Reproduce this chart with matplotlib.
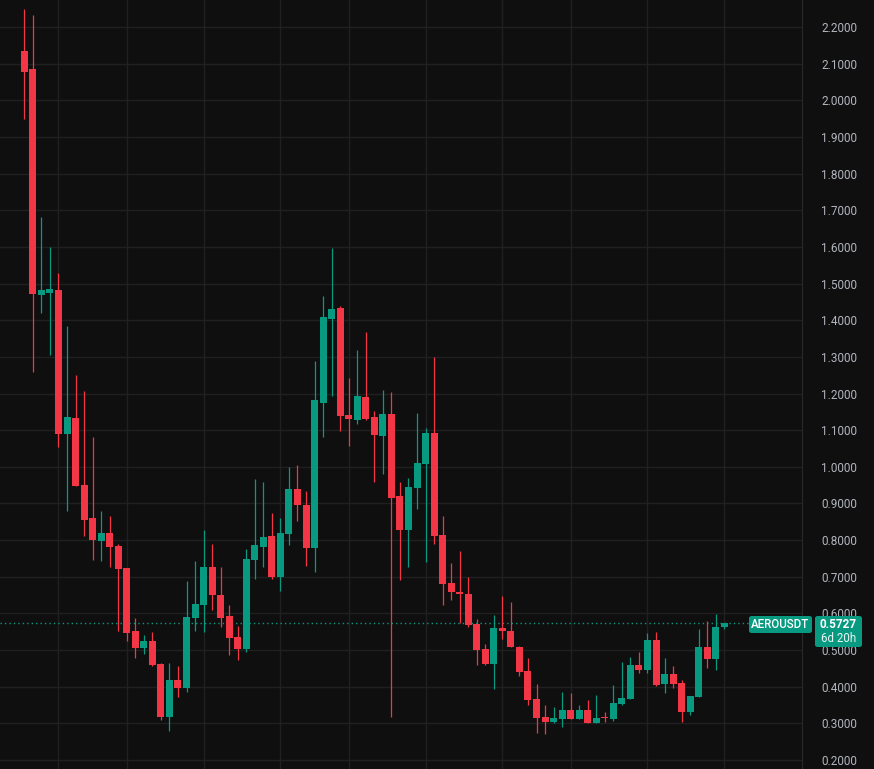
#!/usr/bin/env python3
# -*- coding: utf-8 -*-
"""
weekly candles for AEROUSDT, dark theme
"""

import numpy
import matplotlib
matplotlib.use('Agg')
import matplotlib.pyplot as plt
from matplotlib.patches import FancyBboxPatch

# weekly OHLC
opens = [2.134, 2.085, 1.470, 1.474, 1.482, 1.090, 1.133, 0.950, 0.860, 0.798,
         0.819, 0.784, 0.724, 0.552, 0.506, 0.525, 0.462, 0.318, 0.418, 0.397,
         0.588, 0.624, 0.727, 0.650, 0.593, 0.536, 0.504, 0.747, 0.782, 0.811,
         0.700, 0.817, 0.939, 0.896, 0.779, 1.175, 1.404, 1.433, 1.141, 1.128,
         1.190, 1.136, 1.085, 1.144, 0.919, 0.828, 0.943, 1.008, 1.093, 0.815,
         0.683, 0.658, 0.653, 0.571, 0.503, 0.463, 0.560, 0.552, 0.508, 0.443,
         0.366, 0.317, 0.305, 0.311, 0.336, 0.311, 0.336, 0.301, 0.316, 0.311,
         0.353, 0.366, 0.459, 0.446, 0.527, 0.407, 0.435, 0.410, 0.331, 0.372,
         0.508, 0.476, 0.562]
highs = [2.249, 2.233, 1.682, 1.600, 1.529, 1.384, 1.250, 1.207, 1.081, 0.879,
         0.866, 0.789, 0.724, 0.587, 0.541, 0.549, 0.465, 0.465, 0.456, 0.688,
         0.743, 0.828, 0.789, 0.727, 0.623, 0.566, 0.776, 0.967, 0.959, 0.874,
         0.860, 0.999, 1.005, 0.934, 1.289, 1.466, 1.597, 1.439, 1.242, 1.319,
         1.368, 1.152, 1.210, 1.204, 0.959, 0.970, 1.148, 1.107, 1.300, 0.866,
         0.738, 0.770, 0.699, 0.585, 0.517, 0.596, 0.647, 0.631, 0.511, 0.478,
         0.408, 0.350, 0.345, 0.386, 0.383, 0.350, 0.364, 0.377, 0.331, 0.405,
         0.467, 0.481, 0.495, 0.547, 0.549, 0.478, 0.456, 0.418, 0.375, 0.557,
         0.579, 0.598, 0.575]
lows = [1.950, 1.259, 1.420, 1.306, 1.055, 0.880, 0.948, 0.812, 0.747, 0.744,
        0.727, 0.553, 0.526, 0.479, 0.490, 0.457, 0.310, 0.280, 0.373, 0.386,
        0.553, 0.550, 0.610, 0.564, 0.487, 0.474, 0.496, 0.695, 0.727, 0.695,
        0.662, 0.787, 0.853, 0.730, 0.714, 1.082, 1.194, 1.098, 1.058, 1.118,
        1.128, 0.959, 0.981, 0.318, 0.692, 0.727, 0.886, 0.741, 0.790, 0.624,
        0.637, 0.575, 0.564, 0.460, 0.460, 0.395, 0.531, 0.509, 0.430, 0.351,
        0.275, 0.272, 0.301, 0.291, 0.311, 0.311, 0.301, 0.301, 0.304, 0.306,
        0.350, 0.366, 0.437, 0.437, 0.402, 0.383, 0.396, 0.304, 0.323, 0.372,
        0.451, 0.446, 0.558]
closes = [2.078, 1.472, 1.482, 1.485, 1.090, 1.136, 0.948, 0.856, 0.801, 0.819,
          0.782, 0.722, 0.547, 0.506, 0.525, 0.459, 0.318, 0.418, 0.397, 0.590,
          0.626, 0.727, 0.651, 0.588, 0.534, 0.504, 0.748, 0.787, 0.808, 0.700,
          0.819, 0.939, 0.897, 0.779, 1.182, 1.409, 1.431, 1.139, 1.131, 1.193,
          1.131, 1.088, 1.144, 0.916, 0.828, 0.946, 1.011, 1.093, 0.812, 0.681,
          0.659, 0.653, 0.569, 0.501, 0.463, 0.560, 0.553, 0.509, 0.441, 0.365,
          0.315, 0.305, 0.315, 0.336, 0.311, 0.336, 0.301, 0.315, 0.314, 0.356,
          0.369, 0.459, 0.446, 0.527, 0.405, 0.435, 0.407, 0.331, 0.375, 0.508,
          0.476, 0.563, 0.5727]

# candle index where a new month starts (vertical grid)
month_starts = [4, 12, 21, 30, 38, 47, 56, 64, 73, 82]
price_ticks = numpy.round(numpy.arange(0.2, 2.21, 0.1), 1)

symbol = 'AEROUSDT'
last_price = closes[-1]
countdown = '6d 20h'

bg = '#0f0f0f'
grid_col = '#202020'
up_col = '#089981'
down_col = '#f23645'
label_col = '#b2b5be'

W, H = 874, 769
fig = plt.figure(figsize=(W / 100, H / 100), dpi=100, facecolor=bg)
ax = fig.add_axes([0, 0, 802 / W, 1], facecolor=bg)

x = numpy.arange(len(opens))
o = numpy.array(opens)
c = numpy.array(closes)
colors = [up_col if cc >= oo else down_col for oo, cc in zip(o, c)]

#wicks then bodies on top
ax.vlines(x, lows, highs, colors=colors, linewidth=0.9, zorder=2)
body_bottom = numpy.minimum(o, c)
body_height = numpy.maximum(numpy.abs(c - o), 0.004)
ax.bar(x, body_height, bottom=body_bottom, width=0.82, color=colors,
       linewidth=0, zorder=3)

# last price dotted line
ax.axhline(last_price, color=up_col, linestyle=(0, (1, 2.2)), linewidth=1,
           zorder=1)

ax.set_xlim(-2.85, 91.1)
ax.set_ylim(0.2 - 9 / 366.5, 0.2 + 760 / 366.5)

ax.set_xticks(month_starts)
ax.set_yticks(price_ticks)
ax.grid(True, color=grid_col, linewidth=1)
ax.set_axisbelow(True)
ax.tick_params(axis='x', length=0, labelbottom=False)
ax.yaxis.tick_right()
ax.tick_params(axis='y', length=0, pad=14, labelcolor=label_col,
               labelsize=8.5)
ax.set_yticklabels(['%.4f' % p for p in price_ticks], family='Roboto')
for s in ['top', 'bottom', 'left']:
    ax.spines[s].set_visible(False)
ax.spines['right'].set_color('#2a2a2a')


def fx(px):
    return px / W


def fy(py):
    return 1 - py / H


# symbol tag and price tag on the scale
tag = FancyBboxPatch((fx(749), fy(633)), fx(812) - fx(749), fy(616) - fy(633),
                     boxstyle='round,pad=0,rounding_size=0.003',
                     transform=fig.transFigure, facecolor=up_col,
                     edgecolor='none', zorder=10)
fig.patches.append(tag)
fig.text(fx(780.5), fy(624.5), symbol, color='white', fontsize=8.3,
         family='Roboto', fontweight='medium', ha='center', va='center',
         zorder=11)

ptag = FancyBboxPatch((fx(815), fy(647)), fx(862) - fx(815), fy(616) - fy(647),
                      boxstyle='round,pad=0,rounding_size=0.003',
                      transform=fig.transFigure, facecolor=up_col,
                      edgecolor='none', zorder=10)
fig.patches.append(ptag)
fig.text(fx(838.5), fy(624), '%.4f' % last_price, color='white', fontsize=8.5,
         family='Roboto', fontweight='bold', ha='center', va='center',
         zorder=11)
fig.text(fx(838.5), fy(638.5), countdown, color='#e8f5f2', fontsize=8.3,
         family='Roboto', ha='center', va='center', zorder=11)

fig.savefig('out.png', dpi=100, facecolor=bg)
